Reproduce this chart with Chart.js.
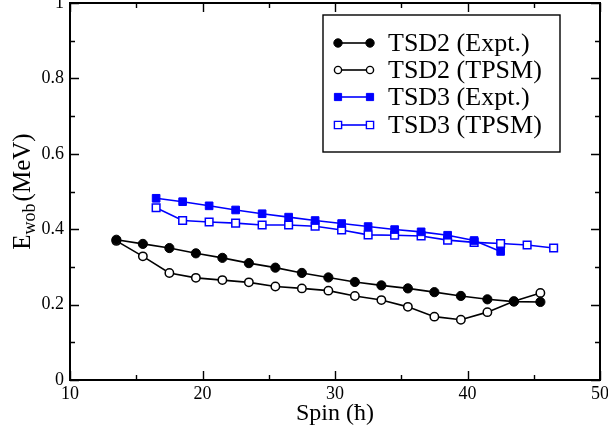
<!DOCTYPE html>
<html>
<head>
<meta charset="utf-8">
<script src="https://cdn.jsdelivr.net/npm/chart.js@4.4.1/dist/chart.umd.min.js"></script>
<style>
  html, body { margin: 0; padding: 0; width: 608px; height: 433px; overflow: hidden; background: #fff; }
  #chart { position: absolute; left: 0; top: -20px; }
</style>
</head>
<body>
<canvas id="chart" width="620" height="460"></canvas>
<script>
// spin values (hbar)
const spinTSD2 = [13.5, 15.5, 17.5, 19.5, 21.5, 23.5, 25.5, 27.5, 29.5, 31.5, 33.5, 35.5, 37.5, 39.5, 41.5, 43.5, 45.5];
const spinTSD3Expt = [16.5, 18.5, 20.5, 22.5, 24.5, 26.5, 28.5, 30.5, 32.5, 34.5, 36.5, 38.5, 40.5, 42.5];
const spinTSD3Tpsm = [16.5, 18.5, 20.5, 22.5, 24.5, 26.5, 28.5, 30.5, 32.5, 34.5, 36.5, 38.5, 40.5, 42.5, 44.5, 46.5];

// wobbling energies (MeV)
const tsd2Expt = [0.372, 0.361, 0.350, 0.336, 0.324, 0.310, 0.298, 0.284, 0.272, 0.260, 0.251, 0.243, 0.233, 0.223, 0.214, 0.208, 0.207];
const tsd2Tpsm = [0.369, 0.328, 0.284, 0.271, 0.265, 0.259, 0.248, 0.243, 0.237, 0.223, 0.212, 0.194, 0.168, 0.160, 0.180, 0.209, 0.231];
const tsd3Expt = [0.482, 0.473, 0.462, 0.451, 0.441, 0.432, 0.423, 0.415, 0.407, 0.399, 0.393, 0.384, 0.370, 0.341];
const tsd3Tpsm = [0.457, 0.423, 0.419, 0.416, 0.411, 0.411, 0.408, 0.398, 0.385, 0.384, 0.382, 0.371, 0.365, 0.362, 0.358, 0.350];

const FONT = '"Liberation Serif", "Times New Roman", serif';
const BLUE = '#0000ff';

const toPoints = (xs, ys) => xs.map((x, i) => ({ x: x, y: ys[i] }));

const series = [
  { label: 'TSD2 (Expt.)', xs: spinTSD2, ys: tsd2Expt, color: '#000', shape: 'circle', filled: true },
  { label: 'TSD2 (TPSM)', xs: spinTSD2, ys: tsd2Tpsm, color: '#000', shape: 'circle', filled: false },
  { label: 'TSD3 (Expt.)', xs: spinTSD3Expt, ys: tsd3Expt, color: BLUE, shape: 'rect', filled: true },
  { label: 'TSD3 (TPSM)', xs: spinTSD3Tpsm, ys: tsd3Tpsm, color: BLUE, shape: 'rect', filled: false }
];

const datasets = series.map(s => ({
  label: s.label,
  data: toPoints(s.xs, s.ys),
  showLine: true,
  borderColor: s.color,
  borderWidth: 1.6,
  pointStyle: s.shape,
  pointRadius: s.shape === 'rect' ? 5.4 : (s.filled ? 4.6 : 4.2),
  pointBorderWidth: s.filled ? 1 : 1.5,
  pointBorderColor: s.color,
  pointBackgroundColor: s.filled ? s.color : '#fff'
}));

// frame, inward ticks on all sides, axis titles and the boxed legend
const decorations = {
  id: 'decorations',
  afterDraw(chart) {
    const { ctx, chartArea: a, scales: { x, y } } = chart;
    ctx.save();
    ctx.strokeStyle = '#000';
    ctx.lineWidth = 2;
    ctx.strokeRect(a.left, a.top, a.right - a.left, a.bottom - a.top);

    ctx.lineWidth = 1.4;
    const xt = x.ticks.map(t => t.value);
    const yt = y.ticks.map(t => t.value);
    const drawX = (v, len) => {
      const px = Math.round(x.getPixelForValue(v)) + 0.5;
      ctx.beginPath();
      ctx.moveTo(px, a.bottom); ctx.lineTo(px, a.bottom - len);
      ctx.moveTo(px, a.top); ctx.lineTo(px, a.top + len);
      ctx.stroke();
    };
    const drawY = (v, len) => {
      const py = Math.round(y.getPixelForValue(v)) + 0.5;
      ctx.beginPath();
      ctx.moveTo(a.left, py); ctx.lineTo(a.left + len, py);
      ctx.moveTo(a.right, py); ctx.lineTo(a.right - len, py);
      ctx.stroke();
    };
    xt.forEach((v, i) => {
      drawX(v, 9);
      if (i < xt.length - 1) drawX((v + xt[i + 1]) / 2, 5);
    });
    yt.forEach((v, i) => {
      drawY(v, 9);
      if (i < yt.length - 1) drawY((v + yt[i + 1]) / 2, 5);
    });

    // x title
    ctx.fillStyle = '#000';
    ctx.font = '24px ' + FONT;
    ctx.textAlign = 'center';
    ctx.textBaseline = 'middle';
    ctx.fillText('Spin (\u0127)', (a.left + a.right) / 2, a.bottom + 34);

    // y title with subscript
    ctx.save();
    ctx.translate(22, (a.top + a.bottom) / 2);
    ctx.rotate(-Math.PI / 2);
    ctx.textAlign = 'left';
    ctx.textBaseline = 'alphabetic';
    const big = '25px ' + FONT, small = '18px ' + FONT;
    ctx.font = big; const wE = ctx.measureText('E').width; const wM = ctx.measureText('(MeV)').width;
    ctx.font = small; const wS = ctx.measureText('wob').width;
    let cx = -(wE + wS + wM + 2) / 2;
    ctx.font = big; ctx.fillText('E', cx, 8); cx += wE;
    ctx.font = small; ctx.fillText('wob', cx, 13); cx += wS + 2;
    ctx.font = big; ctx.fillText('(MeV)', cx, 8);
    ctx.restore();

    // legend
    const off = a.top - 3;
    ctx.lineWidth = 1.4;
    ctx.strokeStyle = '#000';
    ctx.strokeRect(323, 15 + off, 237, 137);
    const rows = [43, 70, 97, 125];
    ctx.font = '26px ' + FONT;
    ctx.textAlign = 'left';
    ctx.textBaseline = 'middle';
    series.forEach((s, i) => {
      const ry = rows[i] + off;
      ctx.strokeStyle = s.color;
      ctx.lineWidth = 1.6;
      ctx.beginPath(); ctx.moveTo(338, ry); ctx.lineTo(370, ry); ctx.stroke();
      [338, 370].forEach(mx => {
        ctx.beginPath();
        if (s.shape === 'circle') ctx.arc(mx, ry, s.filled ? 4.2 : 3.6, 0, Math.PI * 2);
        else ctx.rect(mx - 3.6, ry - 3.6, 7.2, 7.2);
        ctx.fillStyle = s.filled ? s.color : '#fff';
        ctx.fill();
        ctx.lineWidth = s.filled ? 1 : 1.4;
        ctx.stroke();
      });
      ctx.fillStyle = '#000';
      ctx.fillText(s.label, 388, ry + 1);
    });
    ctx.restore();
  }
};

new Chart(document.getElementById('chart'), {
  type: 'scatter',
  data: { datasets: datasets },
  options: {
    responsive: false,
    animation: false,
    devicePixelRatio: 1,
    layout: { padding: { left: 0, top: 23, right: 20, bottom: 0 } },
    plugins: { legend: { display: false }, tooltip: { enabled: false } },
    scales: {
      x: {
        type: 'linear',
        min: 10, max: 50,
        grid: { display: false },
        border: { display: false },
        ticks: { stepSize: 10, color: '#000', font: { family: FONT, size: 18 }, padding: -5, maxRotation: 0 },
        afterFit: s => { s.height = 60; }
      },
      y: {
        type: 'linear',
        min: 0, max: 1,
        grid: { display: false },
        border: { display: false },
        ticks: {
          stepSize: 0.2, color: '#000', font: { family: FONT, size: 18 }, padding: -2,
          callback: v => String(Math.round(v * 10) / 10)
        },
        afterFit: s => { s.width = 70; }
      }
    }
  },
  plugins: [decorations]
});
</script>
</body>
</html>
